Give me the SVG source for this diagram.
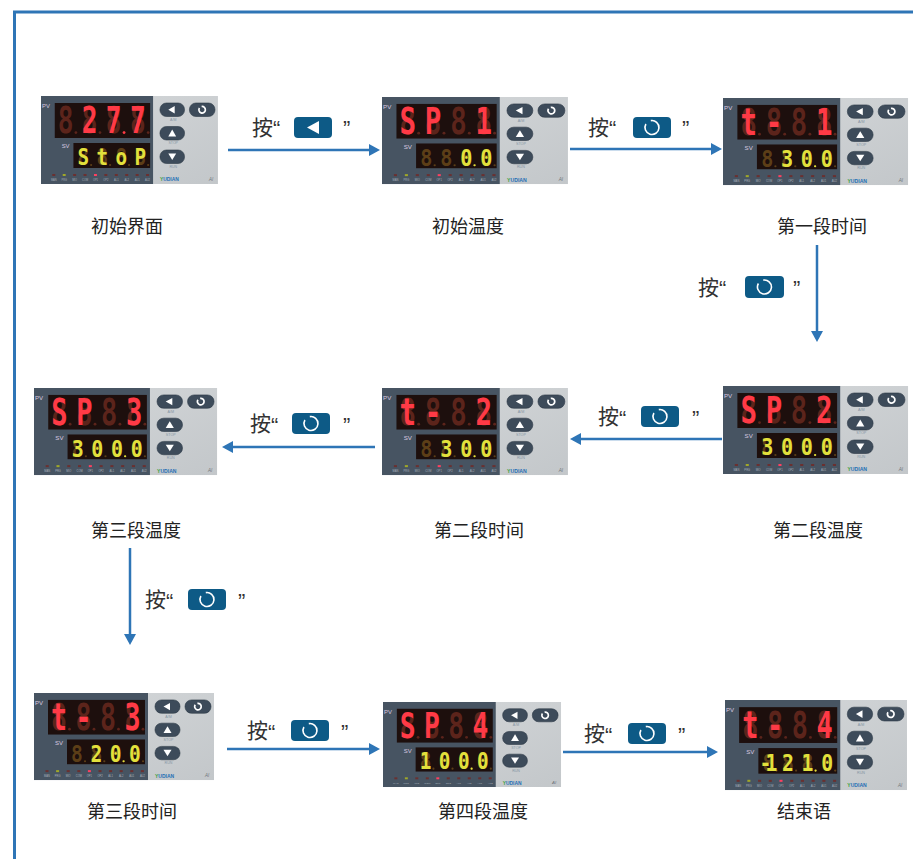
<svg xmlns="http://www.w3.org/2000/svg" xmlns:xlink="http://www.w3.org/1999/xlink" width="913" height="859" viewBox="0 0 913 859">
<style>
.pvd{font-family:"DejaVu Sans Mono",monospace;font-weight:bold;font-size:37px;fill:#5c241b;text-anchor:middle}
.pvl{font-family:"DejaVu Sans Mono",monospace;font-weight:bold;font-size:37px;fill:#ff3a46;text-anchor:middle}
.svd{font-family:"DejaVu Sans Mono",monospace;font-weight:bold;font-size:23px;fill:#5c3e17;text-anchor:middle}
.svl{font-family:"DejaVu Sans Mono",monospace;font-weight:bold;font-size:23px;fill:#e2e03c;text-anchor:middle}
.dd{fill:#5c241b}.dl{fill:#ff3a46}.sdd{fill:#5c3e17}.sdl{fill:#e2e03c}
.lbl{font-family:"Liberation Sans",sans-serif;font-size:6px;fill:#d9c9e0}
.tiny{font-family:"Liberation Sans",sans-serif;font-size:2.6px;fill:#a9b0bb;text-anchor:middle}
.bl{font-family:"Liberation Sans",sans-serif;font-size:3.6px;fill:#8595a4;text-anchor:middle}
.btn{fill:#3d4b5a;stroke:#2c3946;stroke-width:0.6}
.wh{fill:#ffffff}
.cap{font-family:"Noto Sans CJK SC",sans-serif;font-size:18px;fill:#222222;text-anchor:middle}
.an{font-family:"Noto Sans CJK SC",sans-serif;font-size:21px;fill:#333333}
.q{font-family:"Liberation Sans","Noto Sans CJK SC",sans-serif;font-size:22px;fill:#333333}
.key{fill:#0d5a86}
.ring{fill:none;stroke:#ffffff;stroke-width:1.6}
.conn{stroke:#2e75b6;stroke-width:2.5;fill:none}
</style>
<defs>
<linearGradient id="lg" x1="0" y1="0" x2="1" y2="1">
<stop offset="0" stop-color="#d5d8da"/><stop offset="1" stop-color="#c3c7ca"/>
</linearGradient>
<marker id="ah" markerWidth="11" markerHeight="12" refX="8" refY="6" orient="auto" markerUnits="userSpaceOnUse">
<path d="M0,0 L11,6 L0,12 z" fill="#2e75b6"/>
</marker>
<g id="panel">
<rect x="0" y="0" width="180" height="88" fill="url(#lg)"/>
<rect x="0" y="0" width="114" height="88" fill="#475462"/>
<rect x="14" y="7" width="97" height="35" fill="#1d0f0d"/>
<rect x="33" y="47" width="78" height="25" fill="#1d0f0d"/>
<text class="lbl" x="1" y="12">PV</text>
<text class="lbl" x="21" y="52.5">SV</text>
<g fill="#6a3030">
<rect x="11.5" y="78" width="3" height="2"/><rect x="22.1" y="78" width="3" height="2" fill="#a0a828"/><rect x="32.7" y="78" width="3" height="2"/><rect x="43.3" y="78" width="3" height="2"/><rect x="53.9" y="78" width="3" height="2" fill="#ff4060"/><rect x="64.5" y="78" width="3" height="2"/><rect x="75.1" y="78" width="3" height="2"/><rect x="85.7" y="78" width="3" height="2"/><rect x="96.3" y="78" width="3" height="2"/><rect x="106.9" y="78" width="3" height="2"/>
</g>
<text class="tiny" x="13" y="85">MAN</text><text class="tiny" x="23.6" y="85">PRG</text><text class="tiny" x="34.2" y="85">MIO</text><text class="tiny" x="44.8" y="85">COM</text><text class="tiny" x="55.4" y="85">OP1</text><text class="tiny" x="66" y="85">OP2</text><text class="tiny" x="76.6" y="85">AL1</text><text class="tiny" x="87.2" y="85">AL2</text><text class="tiny" x="97.8" y="85">AU1</text><text class="tiny" x="108.4" y="85">AU2</text>
<rect class="btn" x="121" y="7" width="25" height="13.5" rx="6.5"/>
<rect class="btn" x="151" y="7" width="26" height="13.5" rx="6.5"/>
<rect class="btn" x="121" y="30.5" width="25" height="13.5" rx="6.5"/>
<rect class="btn" x="121" y="54" width="25" height="13.5" rx="6.5"/>
<polygon class="wh" points="129.5,13.75 136,10 136,17.5"/>
<polygon class="wh" points="133.5,33.5 129.5,40.5 137.5,40.5"/>
<polygon class="wh" points="129.5,57.5 137.5,57.5 133.5,64"/>
<path d="M163.4,10.5 A3.3,3.3 0 1 1 161.2,11.9" fill="none" stroke="#ffffff" stroke-width="1.7"/>
<text class="bl" x="134.5" y="25">A/M</text>
<text class="bl" x="134.5" y="48.5">STOP</text>
<text class="bl" x="134.5" y="72">RUN</text>
<text x="121" y="85.5" font-family="Liberation Sans, sans-serif" font-size="5" font-weight="bold" fill="#1f6fb5"><tspan fill="#3aa040">Y</tspan>UDIAN</text>
<text x="171" y="85" font-family="Liberation Sans, sans-serif" font-size="4.5" font-style="italic" fill="#6f747a">AI</text>
</g>
<g id="pvbg">
<text class="pvd" transform="scale(0.72,1)" x="34.72 68.75 102.78 136.81" y="37.5">8888</text>
<circle class="dd" cx="35.5" cy="36.6" r="1.4"/><circle class="dd" cx="60" cy="36.6" r="1.4"/><circle class="dd" cx="84.5" cy="36.6" r="1.4"/><circle class="dd" cx="109" cy="36.6" r="1.4"/>
<text class="svd" transform="scale(0.85,1)" x="50.59 73.29 96 118.82" y="69.5">8888</text>
<circle class="sdd" cx="51" cy="69" r="1.1"/><circle class="sdd" cx="70.3" cy="69" r="1.1"/><circle class="sdd" cx="89.6" cy="69" r="1.1"/><circle class="sdd" cx="109" cy="69" r="1.1"/>
</g>
</defs>

<rect x="14.5" y="12" width="960" height="900" fill="none" stroke="#2e75b6" stroke-width="3"/>

<g id="connectors">
<line class="conn" x1="228" y1="150" x2="377" y2="150" marker-end="url(#ah)"/>
<line class="conn" x1="570" y1="149" x2="719" y2="149" marker-end="url(#ah)"/>
<line class="conn" x1="817" y1="245" x2="817" y2="339" marker-end="url(#ah)"/>
<line class="conn" x1="722" y1="439" x2="573" y2="439" marker-end="url(#ah)"/>
<line class="conn" x1="375" y1="447" x2="225" y2="447" marker-end="url(#ah)"/>
<line class="conn" x1="130" y1="548" x2="130" y2="642" marker-end="url(#ah)"/>
<line class="conn" x1="227" y1="749" x2="377" y2="749" marker-end="url(#ah)"/>
<line class="conn" x1="563" y1="752" x2="715" y2="752" marker-end="url(#ah)"/>
</g>

<g id="labels">
<g id="l1"><text class="an" x="252" y="134.5">按</text><text class="q" x="273" y="136">“</text><rect class="key" x="294" y="117" width="38" height="21" rx="4"/><polygon class="wh" points="307,127.5 319,121 319,134"/><text class="q" x="343" y="136">”</text></g>
<g id="l2"><text class="an" x="588" y="134.5">按</text><text class="q" x="609" y="136">“</text><rect class="key" x="633" y="117" width="38" height="21" rx="4"/><path class="ring" d="M650.8,120.6 A7,7 0 1 1 645.9,124"/><text class="q" x="682" y="136">”</text></g>
<g id="l3"><text class="an" x="698" y="294.5">按</text><text class="q" x="719" y="296">“</text><rect class="key" x="745" y="276" width="39" height="22" rx="4"/><path class="ring" d="M763.3,280.1 A7,7 0 1 1 758.4,283.5"/><text class="q" x="793" y="296">”</text></g>
<g id="l4"><text class="an" x="598" y="424">按</text><text class="q" x="619" y="425.5">“</text><rect class="key" x="641" y="406" width="38" height="21" rx="4"/><path class="ring" d="M658.8,409.6 A7,7 0 1 1 653.9,413"/><text class="q" x="692" y="425.5">”</text></g>
<g id="l5"><text class="an" x="250" y="431">按</text><text class="q" x="271" y="432.5">“</text><rect class="key" x="292" y="413" width="38" height="21" rx="4"/><path class="ring" d="M309.8,416.6 A7,7 0 1 1 304.9,420"/><text class="q" x="343" y="432.5">”</text></g>
<g id="l6"><text class="an" x="145" y="607">按</text><text class="q" x="166" y="608.5">“</text><rect class="key" x="188" y="589" width="38" height="21" rx="4"/><path class="ring" d="M205.8,592.6 A7,7 0 1 1 200.9,596"/><text class="q" x="238" y="608.5">”</text></g>
<g id="l7"><text class="an" x="247" y="738">按</text><text class="q" x="268" y="739.5">“</text><rect class="key" x="291" y="720" width="38" height="21" rx="4"/><path class="ring" d="M308.8,723.6 A7,7 0 1 1 303.9,727"/><text class="q" x="341" y="739.5">”</text></g>
<g id="l8"><text class="an" x="584" y="741">按</text><text class="q" x="605" y="742.5">“</text><rect class="key" x="628" y="723" width="38" height="21" rx="4"/><path class="ring" d="M645.8,726.6 A7,7 0 1 1 640.9,730"/><text class="q" x="678" y="742.5">”</text></g>
</g>

<g id="n1">
<g transform="translate(41,96) scale(0.983,1)">
<use href="#panel"/><use href="#pvbg"/>
<text class="pvl" transform="scale(0.72,1)" x="68.75 102.78 136.81" y="37.5">277</text>
<circle class="dl" cx="84.5" cy="36.6" r="1.4"/>
<text class="svl" transform="scale(0.85,1)" x="50.59 73.29 96 118.82" y="69.5">StoP</text>
</g>
<text class="cap" x="127" y="232.5">初始界面</text>
</g>

<g id="n2">
<g transform="translate(382,97) scale(1.033,0.989)">
<use href="#panel"/><use href="#pvbg"/>
<text class="pvl" transform="scale(0.72,1)" x="34.72 68.75 136.81" y="37.5">SP1</text>
<text class="svl" transform="scale(0.85,1)" x="96 118.82" y="69.5">00</text>
<circle class="sdl" cx="89.6" cy="69" r="1.1"/>
</g>
<text class="cap" x="468" y="232.5">初始温度</text>
</g>

<g id="n3">
<g transform="translate(723,98) scale(1.028,0.989)">
<use href="#panel"/><use href="#pvbg"/>
<text class="pvl" transform="scale(0.72,1)" x="34.72 68.75 136.81" y="37.5">t-1</text>
<text class="svl" transform="scale(0.85,1)" x="73.29 96 118.82" y="69.5">300</text>
<circle class="sdl" cx="89.6" cy="69" r="1.1"/>
</g>
<text class="cap" x="822" y="232.5">第一段时间</text>
</g>

<g id="n4">
<g transform="translate(34,388) scale(1.017,0.989)">
<use href="#panel"/><use href="#pvbg"/>
<text class="pvl" transform="scale(0.72,1)" x="34.72 68.75 136.81" y="37.5">SP3</text>
<text class="svl" transform="scale(0.85,1)" x="50.59 73.29 96 118.82" y="69.5">3000</text>
<circle class="sdl" cx="89.6" cy="69" r="1.1"/>
</g>
<text class="cap" x="136" y="537">第三段温度</text>
</g>

<g id="n5">
<g transform="translate(382,388) scale(1.033,0.989)">
<use href="#panel"/><use href="#pvbg"/>
<text class="pvl" transform="scale(0.72,1)" x="34.72 68.75 136.81" y="37.5">t-2</text>
<text class="svl" transform="scale(0.85,1)" x="73.29 96 118.82" y="69.5">300</text>
<circle class="sdl" cx="89.6" cy="69" r="1.1"/>
</g>
<text class="cap" x="479" y="537">第二段时间</text>
</g>

<g id="n6">
<g transform="translate(723,386) scale(1.028,1)">
<use href="#panel"/><use href="#pvbg"/>
<text class="pvl" transform="scale(0.72,1)" x="34.72 68.75 136.81" y="37.5">SP2</text>
<text class="svl" transform="scale(0.85,1)" x="50.59 73.29 96 118.82" y="69.5">3000</text>
<circle class="sdl" cx="89.6" cy="69" r="1.1"/>
</g>
<text class="cap" x="818" y="537">第二段温度</text>
</g>

<g id="n7">
<g transform="translate(34,693) scale(1,0.989)">
<use href="#panel"/><use href="#pvbg"/>
<text class="pvl" transform="scale(0.72,1)" x="34.72 68.75 136.81" y="37.5">t-3</text>
<text class="svl" transform="scale(0.85,1)" x="73.29 96 118.82" y="69.5">200</text>
<circle class="sdl" cx="89.6" cy="69" r="1.1"/>
</g>
<text class="cap" x="132" y="818">第三段时间</text>
</g>

<g id="n8">
<g transform="translate(383,702) scale(0.989,0.966)">
<use href="#panel"/><use href="#pvbg"/>
<text class="pvl" transform="scale(0.72,1)" x="34.72 68.75 136.81" y="37.5">SP4</text>
<text class="svl" transform="scale(0.85,1)" x="50.59 73.29 96 118.82" y="69.5">1000</text>
<circle class="sdl" cx="89.6" cy="69" r="1.1"/>
</g>
<text class="cap" x="483" y="818">第四段温度</text>
</g>

<g id="n9">
<g transform="translate(725,700) scale(1.011,1.023)">
<use href="#panel"/><use href="#pvbg"/>
<text class="pvl" transform="scale(0.72,1)" x="34.72 68.75 136.81" y="37.5">t-4</text>
<text class="svl" transform="scale(0.85,1)" x="47 54 73.29 96 118.82" y="69.5">-1210</text>
<circle class="sdl" cx="89.6" cy="69" r="1.1"/>
</g>
<text class="cap" x="804" y="818">结束语</text>
</g>
</svg>
